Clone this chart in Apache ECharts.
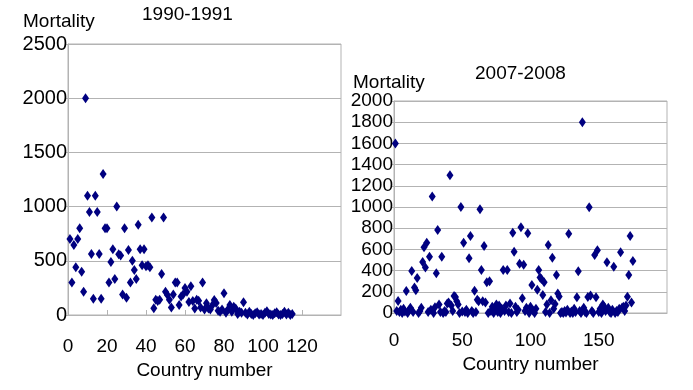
<!DOCTYPE html>
<html lang="en" style="height: 100%">
<head>
<meta charset="utf-8">
<title>Mortality by country</title>
</head>
<body style="height: 100%; margin: 0; background: #fff">
<div id="container" style="width: 693px; height: 390px"></div>
<script type="text/javascript" src="https://cdn.jsdelivr.net/npm/echarts/dist/echarts.min.js"></script>
<script type="text/javascript">
var dom = document.getElementById('container');
var myChart = echarts.init(dom);

// 1990-1991, mortality by country number (1..115)
var mortality1990 = [
    700, 300, 645, 440, 700, 800, 400, 215, 2000, 1100,
    950, 563, 150, 1100, 950, 563, 150, 1300, 800, 800,
    300, 490, 606, 332, 1000, 560, 550, 190, 800, 160,
    600, 300, 500, 415, 332, 833, 606, 460, 606, 450,
    460, 440, 900, 62, 140, 130, 140, 378, 900, 215,
    185, 140, 70, 190, 300, 300, 92, 170, 190, 250,
    215, 120, 265, 130, 60, 140, 132, 70, 300, 50,
    108, 60, 50, 90, 138, 110, 40, 30, 50, 200,
    20, 50, 92, 30, 75, 60, 10, 30, 20, 117,
    20, 5, 30, 10, 0, 15, 25, 5, 10, 0,
    20, 35, 10, 5, 0, 15, 25, 5, 0, 10,
    30, 5, 20, 0, 10
];

// 2007-2008, mortality by country number (1..175)
var mortality2007 = [
    1600, 20, 113, 10, 30, 0, 40, 15, 207, 0,
    25, 50, 396, 10, 240, 215, 330, 0, 20, 50,
    480, 620, 430, 663, 10, 531, 30, 1100, 0, 55,
    374, 783, 80, 10, 531, 0, 20, 10, 90, 100,
    1300, 70, 20, 160, 150, 110, 80, 0, 1000, 15,
    663, 10, 30, 0, 516, 726, 20, 0, 210, 10,
    125, 110, 978, 405, 110, 632, 100, 290, 0, 300,
    20, 60, 0, 30, 80, 10, 70, 0, 40, 405,
    20, 70, 405, 10, 90, 0, 758, 578, 60, 10,
    30, 465, 808, 140, 455, 20, 50, 752, 0, 60,
    264, 20, 0, 40, 220, 405, 335, 320, 170, 290,
    10, 80, 642, 0, 120, 522, 40, 85, 358, 185,
    155, 0, 10, 0, 20, 5, 30, 748, 0, 15,
    0, 40, 10, 148, 393, 20, 0, 1800, 50, 10,
    0, 150, 997, 165, 20, 0, 547, 148, 592, 10,
    40, 0, 80, 60, 20, 478, 50, 10, 0, 30,
    437, 0, 20, 10, 40, 572, 50, 60, 20, 70,
    154, 358, 726, 100, 490
];

function toPoints(values) {
    return values.map(function (v, i) { return [i + 1, v]; });
}

var font = 'Liberation Sans, Arial, sans-serif';
var gridGray = '#b3b3b3';
var navy = '#000080';

function plain(v) { return String(v); }

function xAxisFor(gridIndex, max, interval, labelMargin, nameGap) {
    return {
        gridIndex: gridIndex,
        type: 'value',
        min: 0,
        max: max,
        interval: interval,
        name: 'Country number',
        nameLocation: 'middle',
        nameGap: nameGap,
        nameTextStyle: { fontFamily: font, fontSize: 19, color: '#000' },
        axisLine: { lineStyle: { color: gridGray } },
        axisTick: { inside: true, length: 5, lineStyle: { color: gridGray } },
        axisLabel: { fontFamily: font, fontSize: 19, color: '#000', margin: labelMargin, showMaxLabel: false, formatter: plain },
        splitLine: { show: false }
    };
}

function yAxisFor(gridIndex, max, interval, fontSize) {
    return {
        gridIndex: gridIndex,
        type: 'value',
        min: 0,
        max: max,
        interval: interval,
        axisLine: { show: true, lineStyle: { color: gridGray } },
        axisTick: { show: true, length: 3, lineStyle: { color: gridGray } },
        axisLabel: { fontFamily: font, fontSize: fontSize, color: '#000', margin: 1, formatter: plain },
        splitLine: { lineStyle: { color: gridGray, width: 1 } }
    };
}

var titleStyle = { fontFamily: font, fontSize: 19, fontWeight: 'normal', color: '#000' };

var option = {
    animation: false,
    title: [
        { text: 'Mortality', left: 23, top: 12, padding: 0, textStyle: titleStyle },
        { text: '1990-1991', left: 142, top: 5, padding: 0, textStyle: titleStyle },
        { text: 'Mortality', left: 353, top: 73, padding: 0, textStyle: titleStyle },
        { text: '2007-2008', left: 475, top: 64, padding: 0, textStyle: titleStyle }
    ],
    grid: [
        { left: 68, top: 44, width: 273, height: 271, show: true, borderColor: gridGray, borderWidth: 1 },
        { left: 394, top: 101, width: 273, height: 212, show: true, borderColor: gridGray, borderWidth: 1 }
    ],
    xAxis: [
        xAxisFor(0, 140, 20, 22, 44),
        xAxisFor(1, 200, 50, 18, 40)
    ],
    yAxis: [
        yAxisFor(0, 2500, 500, 20),
        yAxisFor(1, 2000, 200, 19)
    ],
    series: [
        {
            name: '1990-1991',
            type: 'scatter',
            xAxisIndex: 0,
            yAxisIndex: 0,
            symbol: 'diamond',
            symbolSize: [7, 10],
            itemStyle: { color: navy, opacity: 1 },
            data: toPoints(mortality1990)
        },
        {
            name: '2007-2008',
            type: 'scatter',
            xAxisIndex: 1,
            yAxisIndex: 1,
            symbol: 'diamond',
            symbolSize: [7, 10],
            itemStyle: { color: navy, opacity: 1 },
            data: toPoints(mortality2007)
        }
    ]
};

if (option && typeof option === 'object') {
    myChart.setOption(option);
}

window.addEventListener('resize', myChart.resize);
</script>
</body>
</html>
